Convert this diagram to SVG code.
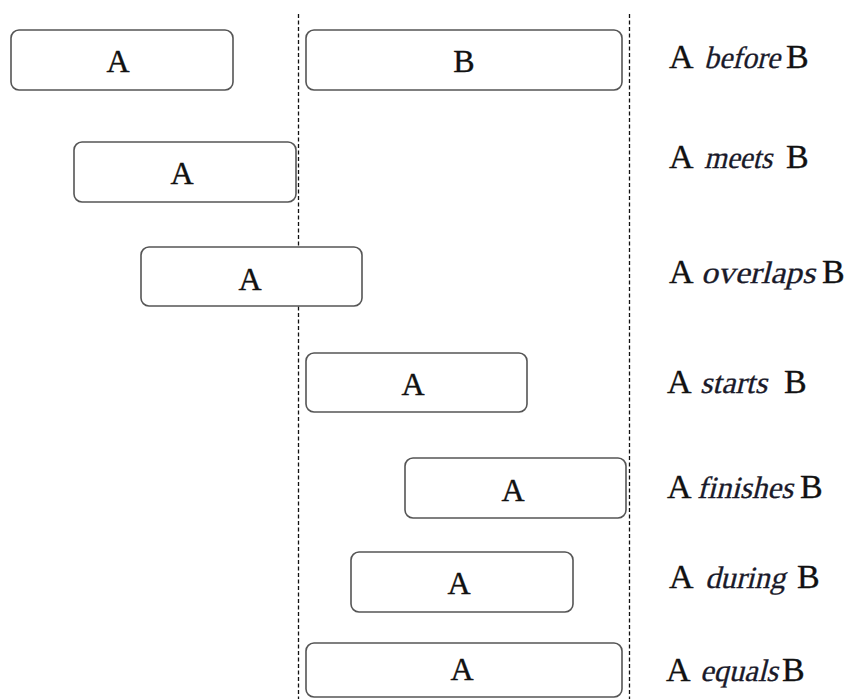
<svg xmlns="http://www.w3.org/2000/svg" width="846" height="699" viewBox="0 0 846 699">
  <style>
    .bar { fill: #ffffff; stroke: #555555; stroke-width: 1.6; }
    .guide { stroke: #111111; stroke-width: 1.3; stroke-dasharray: 4 2.5; fill: none; }
    .tag { font-family: "Liberation Serif", "Times New Roman", serif; font-size: 32px; fill: #111111; stroke: #111111; stroke-width: 0.4; text-anchor: middle; }
    .rel { font-family: "Liberation Serif", "Times New Roman", serif; font-size: 34px; fill: #111111; stroke: #111111; stroke-width: 0.35; }
    /* relation words: upright serif face slanted by the group transform */
    .op { font-family: "Liberation Serif", "Times New Roman", serif; font-size: 31px; fill: #1a1a2a; stroke: #1a1a2a; stroke-width: 0.3; }
  </style>
  <rect width="846" height="699" fill="#ffffff"/>

  <!-- interval B boundaries -->
  <g id="connectors">
    <line class="guide" x1="298.5" y1="14" x2="298.5" y2="699"/>
    <line class="guide" x1="629.5" y1="14" x2="629.5" y2="699"/>
  </g>

  <!-- before -->
  <g id="before-a">
    <rect class="bar" x="11" y="30" width="222" height="60" rx="8"/>
    <text class="tag" x="118" y="72">A</text>
  </g>
  <g id="before-b">
    <rect class="bar" x="306" y="30" width="316" height="60" rx="8"/>
    <text class="tag" x="464" y="72">B</text>
  </g>
  <!-- meets -->
  <g id="meets-a">
    <rect class="bar" x="74" y="142" width="222" height="60" rx="8"/>
    <text class="tag" x="182" y="184">A</text>
  </g>
  <!-- overlaps -->
  <g id="overlaps-a">
    <rect class="bar" x="141" y="247" width="221" height="59" rx="8"/>
    <text class="tag" x="250" y="290">A</text>
  </g>
  <!-- starts -->
  <g id="starts-a">
    <rect class="bar" x="306" y="353" width="221" height="59" rx="8"/>
    <text class="tag" x="413" y="395">A</text>
  </g>
  <!-- finishes -->
  <g id="finishes-a">
    <rect class="bar" x="405" y="458" width="221" height="60" rx="8"/>
    <text class="tag" x="513" y="501">A</text>
  </g>
  <!-- during -->
  <g id="during-a">
    <rect class="bar" x="351" y="552" width="222" height="60" rx="8"/>
    <text class="tag" x="459" y="594">A</text>
  </g>
  <!-- equals -->
  <g id="equals-a">
    <rect class="bar" x="306" y="643" width="316" height="54" rx="8"/>
    <text class="tag" x="462" y="680">A</text>
  </g>

  <!-- relation labels -->
  <g id="label-before">
    <text class="rel" x="669" y="68">A</text>
    <text class="op" transform="translate(704,68) skewX(-14)" x="0" y="0" textLength="76" lengthAdjust="spacingAndGlyphs">before</text>
    <text class="rel" x="786" y="68">B</text>
  </g>
  <g id="label-meets">
    <text class="rel" x="669" y="168">A</text>
    <text class="op" transform="translate(704,168) skewX(-14)" x="0" y="0" textLength="68" lengthAdjust="spacingAndGlyphs">meets</text>
    <text class="rel" x="786" y="168">B</text>
  </g>
  <g id="label-overlaps">
    <text class="rel" x="669" y="283">A</text>
    <text class="op" transform="translate(701,283) skewX(-14)" x="0" y="0" textLength="114" lengthAdjust="spacingAndGlyphs">overlaps</text>
    <text class="rel" x="822" y="283">B</text>
  </g>
  <g id="label-starts">
    <text class="rel" x="667" y="393">A</text>
    <text class="op" transform="translate(700,393) skewX(-14)" x="0" y="0" textLength="67" lengthAdjust="spacingAndGlyphs">starts</text>
    <text class="rel" x="784" y="393">B</text>
  </g>
  <g id="label-finishes">
    <text class="rel" x="667" y="498">A</text>
    <text class="op" transform="translate(697,498) skewX(-14)" x="0" y="0" textLength="96" lengthAdjust="spacingAndGlyphs">finishes</text>
    <text class="rel" x="800" y="498">B</text>
  </g>
  <g id="label-during">
    <text class="rel" x="669" y="588">A</text>
    <text class="op" transform="translate(705,588) skewX(-14)" x="0" y="0" textLength="80" lengthAdjust="spacingAndGlyphs">during</text>
    <text class="rel" x="797" y="588">B</text>
  </g>
  <g id="label-equals">
    <text class="rel" x="666" y="681">A</text>
    <text class="op" transform="translate(700,681) skewX(-14)" x="0" y="0" textLength="78" lengthAdjust="spacingAndGlyphs">equals</text>
    <text class="rel" x="782" y="681">B</text>
  </g>
</svg>
